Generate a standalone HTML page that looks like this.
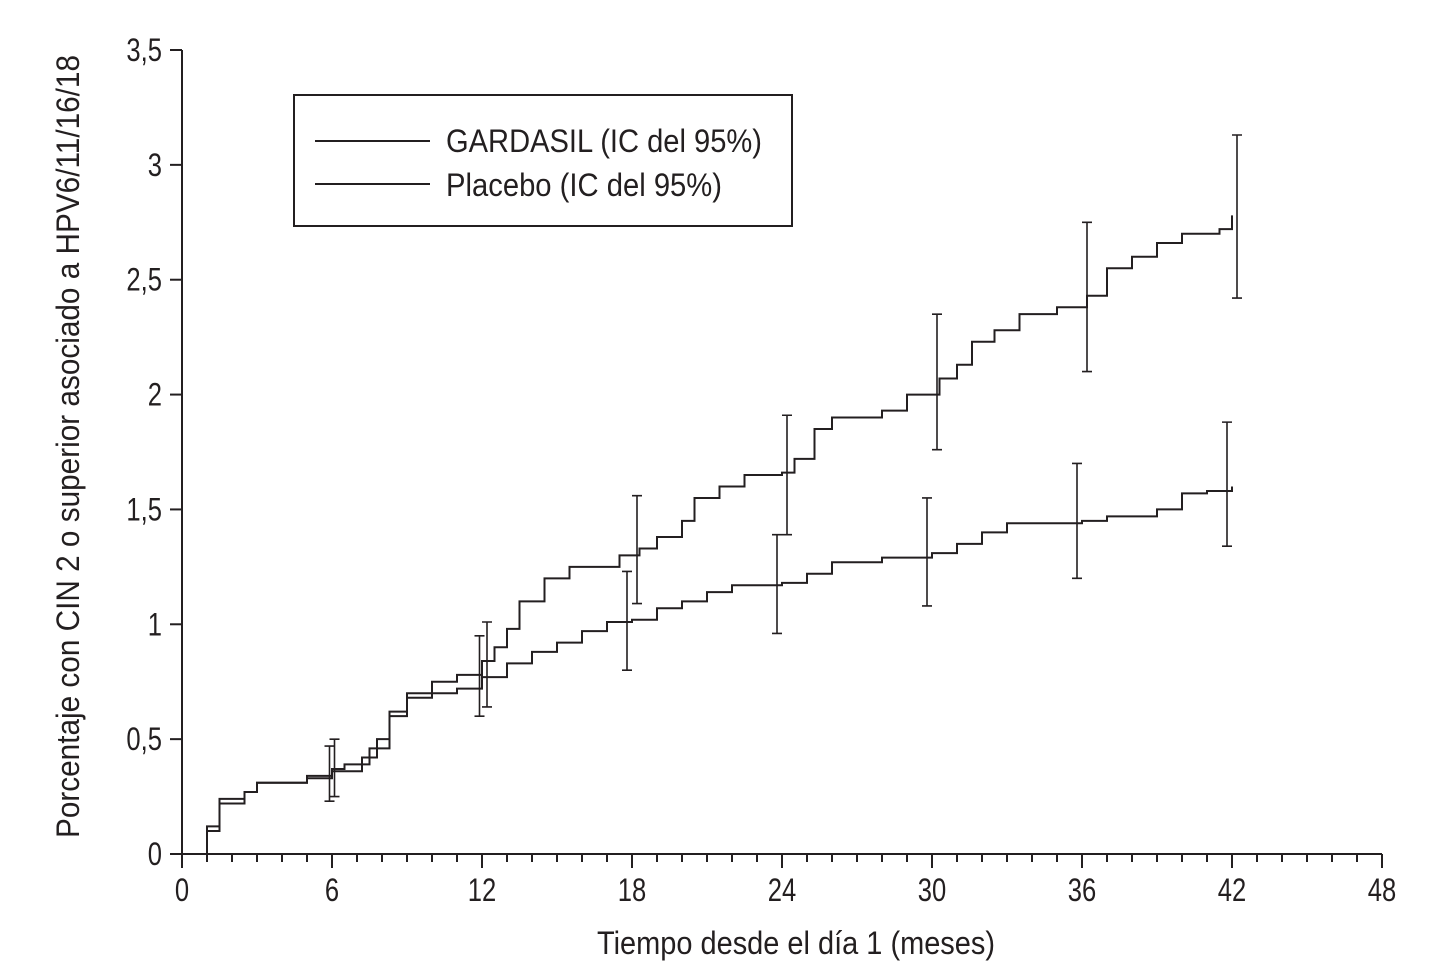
<!DOCTYPE html>
<html><head><meta charset="utf-8"><style>
html,body{margin:0;padding:0;background:#fff;}
svg{display:block;}
text{font-family:"Liberation Sans Narrow","Liberation Sans",sans-serif;fill:#231f20;}
.tk{transform-box:fill-box;}
</style></head><body>
<svg id="chart" width="1454" height="979" viewBox="0 0 1454 979" xmlns="http://www.w3.org/2000/svg">
<g id="axes"></g>
<g id="series"></g>
<g id="legend">
  <rect x="294" y="95" width="498" height="131" fill="#fff" stroke="#231f20" stroke-width="2"/>
  <line x1="315" y1="141" x2="430" y2="141" stroke="#231f20" stroke-width="2"/>
  <text x="446" y="152" font-size="32" textLength="316" lengthAdjust="spacingAndGlyphs">GARDASIL (IC del 95%)</text>
  <line x1="315" y1="184" x2="430" y2="184" stroke="#231f20" stroke-width="2"/>
  <text x="446" y="196" font-size="32" textLength="276" lengthAdjust="spacingAndGlyphs">Placebo (IC del 95%)</text>
</g>
<text x="597" y="954" font-size="32" textLength="398" lengthAdjust="spacingAndGlyphs">Tiempo desde el día 1 (meses)</text>
<text transform="translate(79,838) rotate(-90)" font-size="32" textLength="783" lengthAdjust="spacingAndGlyphs">Porcentaje con CIN 2 o superior asociado a HPV6/11/16/18</text>
</svg>
<script>
const xTicks = [0,6,12,18,24,30,36,42,48];
const yTicks = [0,0.5,1,1.5,2,2.5,3,3.5];
const yTickLabels = ["0","0,5","1","1,5","2","2,5","3","3,5"];
const upperMonths = [0.7,1,1.5,2.5,3,5,6,7.2,7.8,8.3,9,10,11,12,12.5,13,13.5,14.5,15.5,17,17.5,18.3,19,20,20.5,21.5,22.5,24,24.5,25.3,26,28,29,30.3,31,31.6,32.5,33.5,35,36.2,37,38,39,40,41.5,42];
const upperValues = [0,0.1,0.22,0.27,0.31,0.33,0.36,0.42,0.5,0.6,0.68,0.7,0.72,0.84,0.9,0.98,1.1,1.2,1.25,1.25,1.3,1.33,1.38,1.45,1.55,1.6,1.65,1.66,1.72,1.85,1.9,1.93,2.0,2.07,2.13,2.23,2.28,2.35,2.38,2.43,2.55,2.6,2.66,2.7,2.72,2.78];
const lowerMonths = [0.7,1,1.5,2.5,3,5,6,6.5,7.5,8.3,9,10,11,12,13,14,15,16,17,18,19,20,21,22,24,25,26,28,30,31,32,33,36,37,39,40,41,42];
const lowerValues = [0,0.12,0.24,0.27,0.31,0.34,0.37,0.39,0.46,0.62,0.7,0.75,0.78,0.77,0.83,0.88,0.92,0.97,1.01,1.02,1.07,1.1,1.14,1.17,1.18,1.22,1.27,1.29,1.31,1.35,1.4,1.44,1.45,1.47,1.5,1.57,1.58,1.6];
const upperCIMonths = [6.1,12.2,18.2,24.2,30.2,36.2,42.2];
const upperCILow = [0.25,0.64,1.09,1.39,1.76,2.1,2.42];
const upperCIHigh = [0.5,1.01,1.56,1.91,2.35,2.75,3.13];
const lowerCIMonths = [5.9,11.9,17.8,23.8,29.8,35.8,41.8];
const lowerCILow = [0.23,0.6,0.8,0.96,1.08,1.2,1.34];
const lowerCIHigh = [0.47,0.95,1.23,1.39,1.55,1.7,1.88];

const X0=182, X1=1382, Y0=854, Y1=50;
const xs = m => X0 + m*(X1-X0)/48;
const ys = v => Y0 - v*(Y0-Y1)/3.5;
const NS='http://www.w3.org/2000/svg';
function mk(tag, attrs, parent){const e=document.createElementNS(NS,tag);for(const k in attrs)e.setAttribute(k,attrs[k]);parent.appendChild(e);return e;}
const axes=document.getElementById('axes');
const series=document.getElementById('series');
const stroke='#231f20';
let e=mk('line',{x1:X0,y1:Y0,x2:X1,y2:Y0,stroke:stroke,'stroke-width':2},axes);


e=mk('line',{x1:X0,y1:Y0,x2:X0,y2:Y1,stroke:stroke,'stroke-width':2},axes);


for(let m=0;m<=48;m++){
  const major = xTicks.includes(m);
  e=mk('line',{x1:xs(m),y1:Y0,x2:xs(m),y2:Y0+(major?14:8),stroke:stroke,'stroke-width':2},axes);
  
  
}
xTicks.forEach(t=>{
  const tx=mk('text',{x:xs(t),y:Y0+47,'font-size':32,'text-anchor':'middle',class:'tk',style:'transform-origin:center;transform:scaleX(0.8)'},axes);
  tx.textContent=t;
  
  
});
yTicks.forEach((t,i)=>{
  e=mk('line',{x1:X0-12,y1:ys(t),x2:X0,y2:ys(t),stroke:stroke,'stroke-width':2},axes);
  
  
  const tx=mk('text',{x:X0-20,y:ys(t)+11,'font-size':32,'text-anchor':'end',class:'tk',style:'transform-origin:right center;transform:scaleX(0.8)'},axes);
  tx.textContent=yTickLabels[i];
  
  
});
function stepPath(ms,vs){
  let d='M'+xs(ms[0])+','+ys(vs[0]);
  for(let i=1;i<ms.length;i++){d+=' H'+xs(ms[i])+' V'+ys(vs[i]);}
  return d;
}
e=mk('path',{d:stepPath(upperMonths,upperValues),fill:'none',stroke:stroke,'stroke-width':2},series);


e=mk('path',{d:stepPath(lowerMonths,lowerValues),fill:'none',stroke:stroke,'stroke-width':2},series);


function ci(ms,lo,hi,name){
  ms.forEach((m,i)=>{
    const x=xs(m);
    const p=mk('path',{d:`M${x-5},${ys(lo[i])} H${x+5} M${x},${ys(lo[i])} V${ys(hi[i])} M${x-5},${ys(hi[i])} H${x+5}`,fill:'none',stroke:stroke,'stroke-width':1.6},series);
    
    
  });
}
ci(upperCIMonths,upperCILow,upperCIHigh,'upper-error-bar');
ci(lowerCIMonths,lowerCILow,lowerCIHigh,'lower-error-bar');
</script>
</body></html>
